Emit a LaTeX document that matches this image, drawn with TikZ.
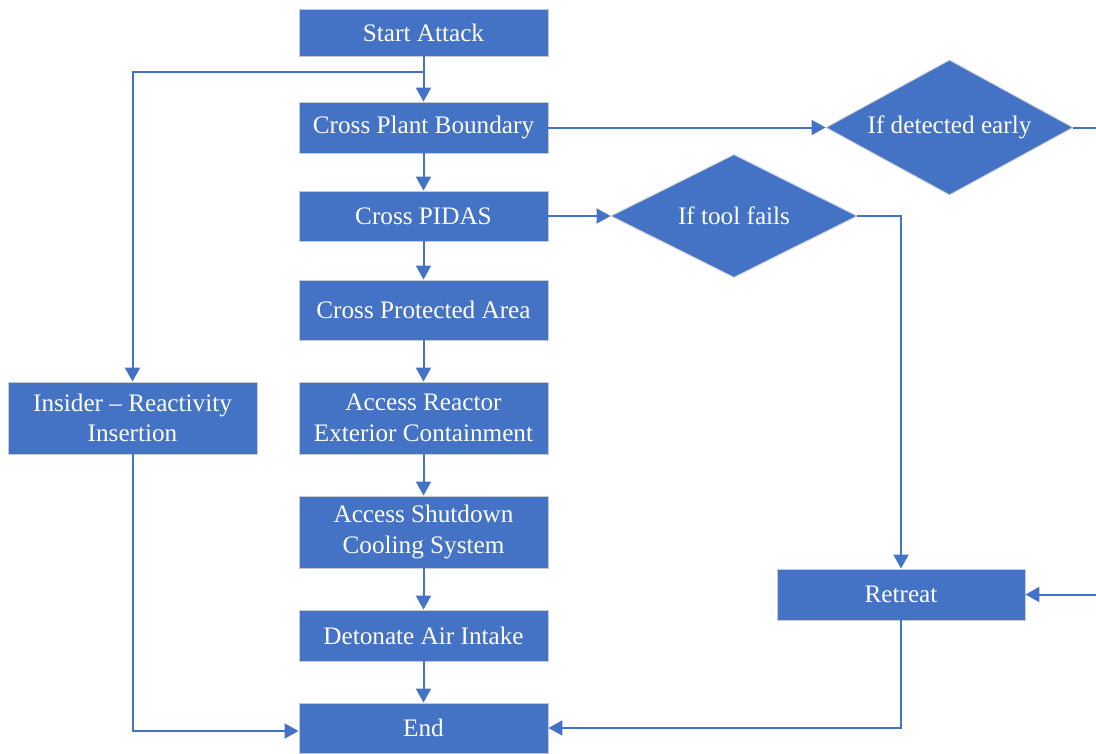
\documentclass[tikz,border=0pt]{standalone}
\usepackage{fontspec}
\setmainfont{Liberation Serif}
\usetikzlibrary{shapes.geometric,arrows.meta}
\definecolor{flowblue}{HTML}{4472C4}
\definecolor{edgegray}{HTML}{C5CAD3}
\begin{document}
\begin{tikzpicture}[x=1pt,y=-1pt,
  box/.style={draw=edgegray,line width=0.9pt,fill=flowblue,text=white,
    font=\fontsize{25.2}{30.5}\selectfont,minimum width=249pt,align=center,inner sep=0pt},
  decision/.style={diamond,aspect=1.85,draw=edgegray,line width=0.9pt,fill=flowblue,text=white,
    font=\fontsize{25.2}{30.5}\selectfont,inner sep=0pt},
  link/.style={draw=flowblue,line width=2pt,-{Triangle[length=14pt,width=15pt]}}]
\clip (0,0) rectangle (1096,753);
\fill[white] (0,0) rectangle (1096,753);

% main column
\node[box,minimum height=47pt] (start)   at (423.5,32.5)  {Start Attack};
\node[box,minimum height=51pt] (cpb)     at (423.5,127.5) {Cross Plant Boundary};
\node[box,minimum height=50pt] (pidas)   at (423.5,216)   {Cross PIDAS};
\node[box,minimum height=60pt] (cpa)     at (423.5,310)   {Cross Protected Area};
\node[box,minimum height=72pt] (reactor) at (423.5,418)   {Access Reactor\\Exterior Containment};
\node[box,minimum height=72pt] (cooling) at (423.5,532)   {Access Shutdown\\Cooling System};
\node[box,minimum height=51pt] (detonate) at (423.5,635.5) {Detonate Air Intake};
\node[box,minimum height=50pt] (end)     at (423.5,728)   {End};

% side branches
\node[box,minimum height=72pt] (insider) at (132.5,418) {Insider – Reactivity\\Insertion};
\node[box,minimum height=51pt,minimum width=248pt] (retreat) at (901,594.5) {Retreat};
\node[decision,minimum width=247pt,minimum height=135pt] (early) at (949.5,127.5) {If detected early};
\node[decision,minimum width=246pt,minimum height=123pt] (tool) at (734,216) {If tool fails};

% connectors
\coordinate (split) at (423.5,72);
\coordinate (outright) at (1115,127.5);
\draw[link] (start) -- (cpb);
\draw[link] (split) -| (insider);
\draw[link] (cpb) -- (pidas);
\draw[link] (pidas) -- (cpa);
\draw[link] (cpa) -- (reactor);
\draw[link] (reactor) -- (cooling);
\draw[link] (cooling) -- (detonate);
\draw[link] (detonate) -- (end);
\draw[link] (cpb) -- (early);
\draw[link] (pidas) -- (tool);
\draw[link] (early.east) -- (outright) |- (retreat.east);
\draw[link] (tool.east) -| (retreat.north);
\draw[link] (retreat.south) |- (end.east);
\draw[link] (insider.south) |- ([yshift=-3pt]end.west);
\end{tikzpicture}
\end{document}
